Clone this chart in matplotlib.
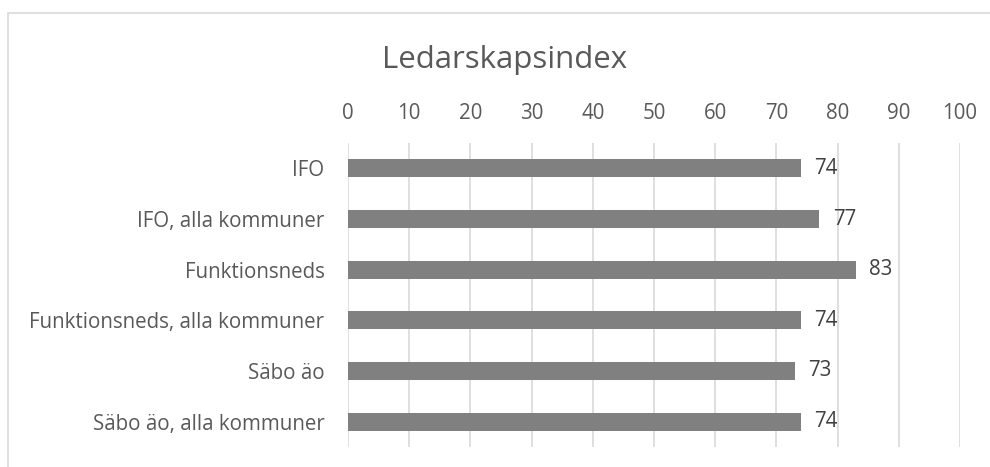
import matplotlib
matplotlib.use("Agg")
import matplotlib.pyplot as plt
from matplotlib.patches import Rectangle

categories = ["IFO", "IFO, alla kommuner", "Funktionsneds",
              "Funktionsneds, alla kommuner", "Säbo äo", "Säbo äo, alla kommuner"]
values = [74, 77, 83, 74, 73, 74]
ticks = [0, 10, 20, 30, 40, 50, 60, 70, 80, 90, 100]
title = "Ledarskapsindex"

plt.rcParams['font.family'] = ['Open Sans', 'DejaVu Sans']

fig = plt.figure(figsize=(9.9, 4.67), dpi=100)
ax = fig.add_axes([348/990, 1-447/467, (960-348)/990, (447-143)/467])

y = list(range(len(categories)))
ax.barh(y, values, height=0.35, color="#808080", zorder=3)
ax.set_ylim(len(categories)-0.5, -0.5)
ax.set_xlim(0, 100)
ax.set_xticks(ticks)
ax.xaxis.tick_top()
ax.tick_params(axis='x', length=0, pad=14, labelsize=14.8, labelcolor="#595959")
ax.tick_params(axis='y', length=0, pad=17, labelsize=14.8, labelcolor="#595959")
ax.set_yticks(y)
ax.set_yticklabels(categories)
ax.grid(axis='x', color="#d9d9d9", linewidth=1.2, zorder=0)
for s in ax.spines.values():
    s.set_visible(False)

for yi, v in zip(y, values):
    ax.text(v + 2.2, yi, str(v), va='center', ha='left', fontsize=14.8, color="#404040")

fig.text(505/990, 1-60/467, title, ha='center', va='center', fontsize=22.5, color="#595959")

fig.patches.append(Rectangle((8/990, -0.1), 1.2, 1-13/467+0.1, transform=fig.transFigure,
                             fill=False, edgecolor="#d9d9d9", linewidth=1.2))

fig.savefig("out.png", dpi=100)
